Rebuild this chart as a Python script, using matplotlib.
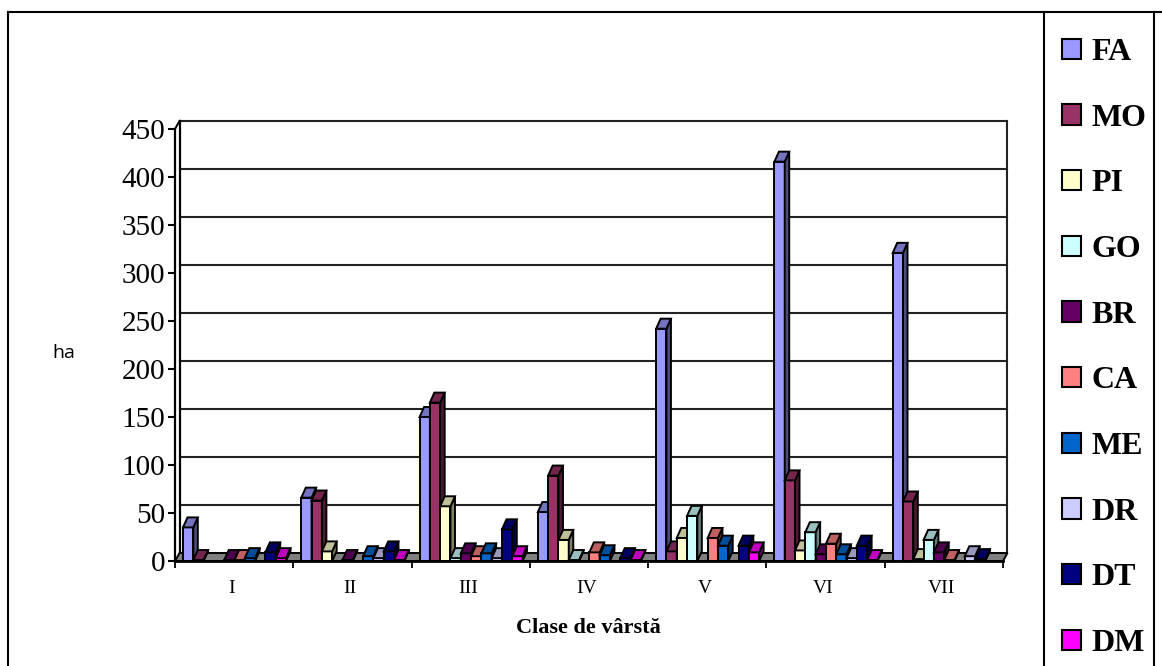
import matplotlib
matplotlib.use('Agg')
import matplotlib.pyplot as plt
from matplotlib.colors import to_rgb
from matplotlib.lines import Line2D
from matplotlib.patches import Patch

classes = ['I', 'II', 'III', 'IV', 'V', 'VI', 'VII']
species = ['FA', 'MO', 'PI', 'GO', 'BR', 'CA', 'ME', 'DR', 'DT', 'DM']
colors = ['#9999FF', '#993366', '#FFFFCC', '#CCFFFF', '#660066',
          '#FF8080', '#0066CC', '#CCCCFF', '#000080', '#FF00FF']

fa = [35, 66, 150, 51, 242, 416, 321]
mo = [1, 63, 165, 89, 10, 84, 62]
pi = [0, 10, 57, 22, 24, 11, 2]
go = [0, 0, 3, 1, 47, 30, 22]
br = [1, 1, 8, 0, 0, 7, 9]
ca = [1, 0, 5, 9, 24, 18, 1]
me = [3, 5, 8, 6, 16, 7, 0]
dr = [0, 3, 3, 0, 0, 3, 5]
dt = [9, 10, 33, 3, 16, 16, 2]
dm = [3, 1, 5, 1, 9, 1, 0]
series = [fa, mo, pi, go, br, ca, me, dr, dt, dm]

W, H = 1162, 666
X0, X1, Y0, Y450 = 175, 1003, 561, 129
px_x = len(classes) / (X1 - X0)   # category units per pixel
px_y = 450 / (Y0 - Y450)          # ha per pixel

bar_w = 10.3 * px_x
bar_start = 8 * px_x
depth_x, depth_y = 4.5 * px_x, 10 * px_y
wall_x, wall_y = 4.5 * px_x, 8 * px_y
edge = dict(edgecolor='black', linewidth=1.4, joinstyle='miter')


def shade(color, k):
    return tuple(c * k for c in to_rgb(color))


fig = plt.figure(figsize=(W / 100, H / 100), dpi=100)
ax = fig.add_axes([X0 / W, (H - Y0) / H, (X1 - X0) / W, (Y0 - Y450) / H])
ax.set_xlim(0, len(classes))
ax.set_ylim(0, 450)
for s in ['top', 'right']:
    ax.spines[s].set_visible(False)
ax.spines['left'].set_linewidth(1.6)
ax.spines['bottom'].set_linewidth(2)

# back wall and gridlines
n = len(classes)
for v in range(50, 451, 50):
    ax.plot([wall_x, n + wall_x], [v + wall_y] * 2, color='#222222', lw=1.5,
            clip_on=False, zorder=1)
ax.plot([wall_x, wall_x], [wall_y, 450 + wall_y], color='black', lw=1.6, clip_on=False, zorder=1)
ax.plot([n + wall_x, n + wall_x], [wall_y, 450 + wall_y], color='#222222', lw=1.5, clip_on=False, zorder=1)
ax.plot([0, wall_x], [450, 450 + wall_y], color='black', lw=1.4, clip_on=False, zorder=1)

# floor
ax.fill([0, n, n + wall_x, wall_x], [0, 0, wall_y, wall_y], facecolor='#808080',
        clip_on=False, zorder=1.5, **edge)

# bars, left to right so that each one covers the side of the previous one
z = 2
for i in range(n):
    for j, vals in enumerate(series):
        v = vals[i]
        if v == 0:
            continue  # empty classes show just the floor
        x = i + bar_start + j * bar_w
        col = colors[j]
        ax.bar(x, v, bar_w, align='edge', color=col, clip_on=False, zorder=z, **edge)
        ax.fill([x + bar_w, x + bar_w + depth_x, x + bar_w + depth_x, x + bar_w],
                [0, depth_y, v + depth_y, v], facecolor=shade(col, 0.5),
                clip_on=False, zorder=z, **edge)
        ax.fill([x, x + bar_w, x + bar_w + depth_x, x + depth_x],
                [v, v, v + depth_y, v + depth_y], facecolor=shade(col, 0.75),
                clip_on=False, zorder=z, **edge)
        z += 0.01

ax.set_yticks(range(0, 451, 50))
ax.tick_params(axis='y', length=5, width=1.5, pad=2, labelsize=21)
ax.set_xticks(range(n + 1))
ax.set_xticks([i + 0.48 for i in range(n)], classes, minor=True)
ax.tick_params(axis='x', which='major', length=5, width=1.3, labelbottom=False)
ax.tick_params(axis='x', which='minor', length=0, pad=14, labelsize=14)
for lab in ax.get_yticklabels() + ax.get_xticklabels(minor=True):
    lab.set_family('Liberation Serif')

fig.text(588 / W, 1 - 628 / H, 'Clase de vârstă', family='Liberation Serif', weight='bold',
         fontsize=16, ha='center', va='center')
fig.text(64 / W, 1 - 353 / H, 'ha', family='Open Sans', fontsize=14, ha='center', va='center')

# outer frame and legend box
for xs, ys in [([8, 8], [666, 12]), ([8, W], [12, 12]), ([1044, 1044], [12, 666]), ([1154, 1154], [12, 666])]:
    fig.add_artist(Line2D([x / W for x in xs], [1 - y / H for y in ys], color='black', lw=1.5))

handles = [Patch(facecolor=c, edgecolor='black', linewidth=1.5) for c in colors]
leg = fig.legend(handles, species, loc='upper left', bbox_to_anchor=(1062 / W, 1 - 38 / H),
                 frameon=False, handlelength=0.6, handleheight=0.6, handletextpad=0.32,
                 labelspacing=1.148, borderpad=0, borderaxespad=0,
                 prop={'family': 'Liberation Serif', 'weight': 'bold', 'size': 23})

fig.savefig('out.png', dpi=100)
